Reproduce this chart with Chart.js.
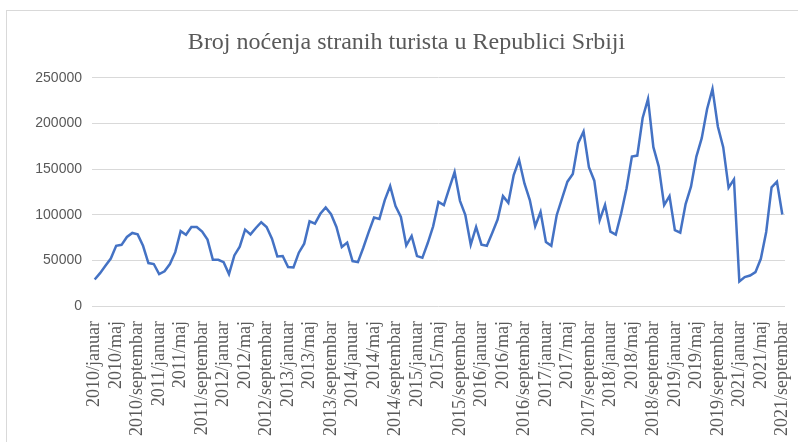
<!DOCTYPE html>
<html>
<head>
<meta charset="utf-8">
<script src="https://cdn.jsdelivr.net/npm/chart.js@4"></script>
<style>
  body { margin: 0; background: #fff; }
  #wrap { position: relative; width: 798px; height: 442px; }
  #frame { position: absolute; left: 6px; top: 10px; width: 800px; height: 440px; border: 1px solid #d9d9d9; }
  canvas { position: absolute; left: 0; top: 0; }
</style>
</head>
<body>
<div id="wrap">
  <div id="frame"></div>
  <canvas id="nocenja-chart" width="798" height="442"></canvas>
</div>
<script>
const years = ['2010', '2011', '2012', '2013', '2014', '2015', '2016', '2017', '2018', '2019', '2021']
const months = ['januar', 'februar', 'mart', 'april', 'maj', 'jun', 'jul', 'avgust', 'septembar', 'oktobar', 'novembar', 'decembar']

// monthly values per year (2020 is not in the source table)
const v2010 = [29000, 36000, 44000, 52000, 66000, 67000, 75600, 80000, 78500, 66000, 47000, 46000]
const v2011 = [35000, 38000, 46000, 59000, 82000, 78000, 86600, 86600, 81500, 72700, 50600, 50600]
const v2012 = [48000, 35000, 55400, 65000, 83700, 78500, 85500, 91800, 86600, 73800, 54300, 54700]
const v2013 = [42600, 42200, 58400, 68300, 92800, 90300, 101000, 108000, 100500, 86600, 64600, 69400]
const v2014 = [49200, 48000, 63800, 81000, 96900, 95400, 116000, 131400, 109400, 97600, 66400, 76700]
const v2015 = [54700, 52800, 69000, 87300, 114000, 110500, 128800, 146800, 115200, 99500, 67200, 86600]
const v2016 = [67200, 66000, 80000, 94700, 120400, 113000, 143500, 160000, 134300, 116000, 87300, 103000]
const v2017 = [70000, 66000, 99500, 117800, 136200, 144600, 178400, 191200, 152000, 137300, 94000, 110800]
const v2018 = [81500, 78200, 101300, 128800, 163700, 164800, 206000, 226800, 174000, 152700, 110500, 120400]
const v2019 = [83000, 80400, 111600, 130700, 163700, 183900, 215800, 237800, 196700, 174000, 129600, 138700]
const v2021 = [26800, 31600, 33400, 37100, 51700, 81100, 130000, 136200, 100200]

const yearValues = [v2010, v2011, v2012, v2013, v2014, v2015, v2016, v2017, v2018, v2019, v2021]

var labels = []
var values = []
years.forEach(function (y, i) {
  yearValues[i].forEach(function (v, m) {
    labels.push(y + '/' + months[m])
    values.push(v)
  })
})

const ctx = document.getElementById('nocenja-chart')
new Chart(ctx, {
  type: 'line',
  data: {
    labels: labels,
    datasets: [
      {
        label: 'Broj noćenja',
        data: values,
        borderColor: '#4472c4',
        borderWidth: 2.5,
        pointRadius: 0,
        tension: 0,
        fill: false
      }
    ]
  },
  options: {
    responsive: false,
    animation: false,
    layout: {
      padding: { left: 28, right: 13, top: 0, bottom: 0 }
    },
    scales: {
      x: {
        offset: true,
        grid: { display: false },
        border: { display: false },
        afterFit: function (s) {
          s.height = 136
          s.paddingLeft = 0
          s.paddingRight = 0
        },
        ticks: {
          autoSkip: false,
          minRotation: 90,
          maxRotation: 90,
          padding: 7,
          color: '#595959',
          font: { family: '"Liberation Serif", "Times New Roman", serif', size: 18 },
          callback: function (val, index) {
            return index % 4 === 0 ? this.getLabelForValue(val) : ''
          }
        }
      },
      y: {
        min: 0,
        max: 250000,
        afterFit: function (s) { s.width = 64 },
        border: { display: false },
        grid: { color: '#d9d9d9', lineWidth: 1, drawTicks: false },
        ticks: {
          stepSize: 50000,
          padding: 10,
          color: '#595959',
          font: { family: '"Liberation Sans", Arial, sans-serif', size: 14 },
          callback: function (val) {
            return String(val)
          }
        }
      }
    },
    plugins: {
      legend: { display: false },
      tooltip: { enabled: false },
      title: {
        display: true,
        text: 'Broj noćenja stranih turista u Republici Srbiji',
        color: '#595959',
        font: { family: '"Liberation Serif", "Times New Roman", serif', size: 24, weight: 'normal' },
        padding: { top: 28, bottom: 21 }
      }
    }
  }
})
</script>
</body>
</html>
